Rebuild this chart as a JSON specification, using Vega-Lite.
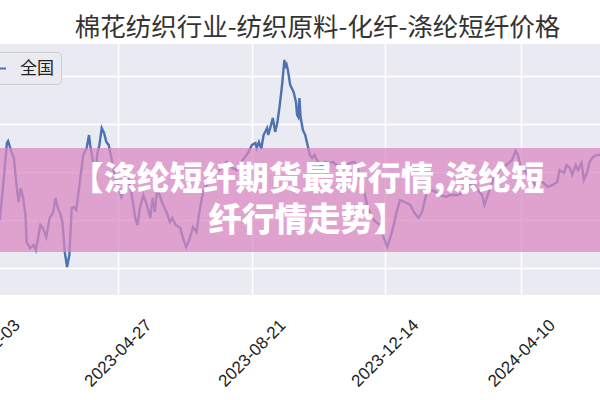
{
  "$schema": "https://vega.github.io/schema/vega-lite/v6.json",
  "autosize": {"type": "none"},
  "width": 637,
  "height": 251,
  "padding": {"left": -37, "top": 44, "right": 0, "bottom": 105},
  "background": "white",
  "title": {
    "text": "棉花纺织行业-纺织原料-化纤-涤纶短纤价格",
    "font": "Noto Sans CJK SC",
    "fontSize": 25.5,
    "fontWeight": "normal",
    "color": "#333333",
    "anchor": "middle",
    "frame": "group",
    "dx": 36,
    "offset": 3
  },
  "datasets": {
    "price": [
      {"d": "2023-01-03", "v": 7280}, {"d": "2023-01-09", "v": 7233}, {"d": "2023-01-15", "v": 7208},
      {"d": "2023-01-18", "v": 7358}, {"d": "2023-01-21", "v": 7521}, {"d": "2023-01-22", "v": 7529},
      {"d": "2023-01-25", "v": 7483}, {"d": "2023-01-27", "v": 7458}, {"d": "2023-01-29", "v": 7358},
      {"d": "2023-01-31", "v": 7275}, {"d": "2023-02-02", "v": 7333}, {"d": "2023-02-04", "v": 7292},
      {"d": "2023-02-06", "v": 7221}, {"d": "2023-02-07", "v": 7108}, {"d": "2023-02-10", "v": 7083},
      {"d": "2023-02-13", "v": 7096}, {"d": "2023-02-15", "v": 7075}, {"d": "2023-02-19", "v": 7179},
      {"d": "2023-02-21", "v": 7167}, {"d": "2023-02-24", "v": 7129}, {"d": "2023-02-27", "v": 7208},
      {"d": "2023-03-02", "v": 7233}, {"d": "2023-03-04", "v": 7292}, {"d": "2023-03-06", "v": 7250},
      {"d": "2023-03-08", "v": 7229}, {"d": "2023-03-10", "v": 7192}, {"d": "2023-03-12", "v": 7067},
      {"d": "2023-03-14", "v": 7004}, {"d": "2023-03-16", "v": 7054}, {"d": "2023-03-18", "v": 7250},
      {"d": "2023-03-20", "v": 7254}, {"d": "2023-03-22", "v": 7242}, {"d": "2023-03-25", "v": 7358},
      {"d": "2023-03-28", "v": 7471}, {"d": "2023-03-31", "v": 7500}, {"d": "2023-04-02", "v": 7554},
      {"d": "2023-04-03", "v": 7513}, {"d": "2023-04-06", "v": 7429}, {"d": "2023-04-08", "v": 7367},
      {"d": "2023-04-09", "v": 7471}, {"d": "2023-04-11", "v": 7513}, {"d": "2023-04-13", "v": 7583},
      {"d": "2023-04-15", "v": 7563}, {"d": "2023-04-17", "v": 7525}, {"d": "2023-04-19", "v": 7513},
      {"d": "2023-04-22", "v": 7442}, {"d": "2023-04-24", "v": 7388}, {"d": "2023-04-27", "v": 7346},
      {"d": "2023-04-30", "v": 7296}, {"d": "2023-05-03", "v": 7333}, {"d": "2023-05-06", "v": 7375},
      {"d": "2023-05-09", "v": 7304}, {"d": "2023-05-12", "v": 7208}, {"d": "2023-05-14", "v": 7179},
      {"d": "2023-05-16", "v": 7250}, {"d": "2023-05-19", "v": 7304}, {"d": "2023-05-22", "v": 7263},
      {"d": "2023-05-25", "v": 7208}, {"d": "2023-05-27", "v": 7292}, {"d": "2023-05-29", "v": 7233},
      {"d": "2023-05-31", "v": 7333}, {"d": "2023-06-02", "v": 7304}, {"d": "2023-06-05", "v": 7263},
      {"d": "2023-06-08", "v": 7233}, {"d": "2023-06-11", "v": 7192}, {"d": "2023-06-13", "v": 7208},
      {"d": "2023-06-16", "v": 7179}, {"d": "2023-06-20", "v": 7167}, {"d": "2023-06-22", "v": 7129},
      {"d": "2023-06-25", "v": 7088}, {"d": "2023-06-27", "v": 7108}, {"d": "2023-06-29", "v": 7138},
      {"d": "2023-07-01", "v": 7171}, {"d": "2023-07-04", "v": 7150}, {"d": "2023-07-06", "v": 7221},
      {"d": "2023-07-10", "v": 7325}, {"d": "2023-07-14", "v": 7354}, {"d": "2023-07-17", "v": 7383},
      {"d": "2023-07-21", "v": 7400}, {"d": "2023-07-24", "v": 7408}, {"d": "2023-07-30", "v": 7442},
      {"d": "2023-08-04", "v": 7417}, {"d": "2023-08-08", "v": 7408}, {"d": "2023-08-13", "v": 7450},
      {"d": "2023-08-18", "v": 7483}, {"d": "2023-08-21", "v": 7513}, {"d": "2023-08-24", "v": 7521},
      {"d": "2023-08-25", "v": 7500}, {"d": "2023-08-27", "v": 7525}, {"d": "2023-08-29", "v": 7496},
      {"d": "2023-08-31", "v": 7554}, {"d": "2023-09-03", "v": 7583}, {"d": "2023-09-04", "v": 7554},
      {"d": "2023-09-06", "v": 7588}, {"d": "2023-09-08", "v": 7625}, {"d": "2023-09-10", "v": 7567},
      {"d": "2023-09-12", "v": 7608}, {"d": "2023-09-14", "v": 7679}, {"d": "2023-09-16", "v": 7763},
      {"d": "2023-09-18", "v": 7867}, {"d": "2023-09-19", "v": 7833}, {"d": "2023-09-20", "v": 7846},
      {"d": "2023-09-21", "v": 7825}, {"d": "2023-09-23", "v": 7763}, {"d": "2023-09-26", "v": 7733},
      {"d": "2023-09-28", "v": 7692}, {"d": "2023-09-29", "v": 7638}, {"d": "2023-09-30", "v": 7629},
      {"d": "2023-10-01", "v": 7708}, {"d": "2023-10-02", "v": 7629}, {"d": "2023-10-04", "v": 7575},
      {"d": "2023-10-06", "v": 7554}, {"d": "2023-10-08", "v": 7513}, {"d": "2023-10-10", "v": 7471},
      {"d": "2023-10-12", "v": 7458}, {"d": "2023-10-14", "v": 7471}, {"d": "2023-10-16", "v": 7450},
      {"d": "2023-10-20", "v": 7425}, {"d": "2023-10-23", "v": 7442}, {"d": "2023-10-27", "v": 7438},
      {"d": "2023-10-30", "v": 7442}, {"d": "2023-11-02", "v": 7429}, {"d": "2023-11-05", "v": 7417},
      {"d": "2023-11-11", "v": 7429}, {"d": "2023-11-14", "v": 7438}, {"d": "2023-11-17", "v": 7442},
      {"d": "2023-11-20", "v": 7429}, {"d": "2023-11-22", "v": 7375}, {"d": "2023-11-26", "v": 7317},
      {"d": "2023-11-29", "v": 7254}, {"d": "2023-12-03", "v": 7208}, {"d": "2023-12-06", "v": 7192},
      {"d": "2023-12-10", "v": 7179}, {"d": "2023-12-12", "v": 7138}, {"d": "2023-12-16", "v": 7088},
      {"d": "2023-12-18", "v": 7117}, {"d": "2023-12-21", "v": 7167}, {"d": "2023-12-24", "v": 7233},
      {"d": "2023-12-27", "v": 7283}, {"d": "2023-12-31", "v": 7275}, {"d": "2024-01-05", "v": 7263},
      {"d": "2024-01-08", "v": 7233}, {"d": "2024-01-12", "v": 7208}, {"d": "2024-01-15", "v": 7233},
      {"d": "2024-01-18", "v": 7292}, {"d": "2024-01-19", "v": 7317}, {"d": "2024-01-24", "v": 7325},
      {"d": "2024-01-31", "v": 7304}, {"d": "2024-02-05", "v": 7296}, {"d": "2024-02-08", "v": 7304},
      {"d": "2024-02-15", "v": 7304}, {"d": "2024-02-21", "v": 7317}, {"d": "2024-02-27", "v": 7358},
      {"d": "2024-03-02", "v": 7333}, {"d": "2024-03-07", "v": 7304}, {"d": "2024-03-09", "v": 7263},
      {"d": "2024-03-11", "v": 7292}, {"d": "2024-03-14", "v": 7333}, {"d": "2024-03-17", "v": 7375},
      {"d": "2024-03-22", "v": 7408}, {"d": "2024-03-28", "v": 7429}, {"d": "2024-04-02", "v": 7450},
      {"d": "2024-04-05", "v": 7488}, {"d": "2024-04-07", "v": 7471}, {"d": "2024-04-09", "v": 7429},
      {"d": "2024-04-13", "v": 7408}, {"d": "2024-04-17", "v": 7375}, {"d": "2024-04-23", "v": 7342},
      {"d": "2024-04-28", "v": 7358}, {"d": "2024-05-03", "v": 7338}, {"d": "2024-05-07", "v": 7346},
      {"d": "2024-05-11", "v": 7358}, {"d": "2024-05-13", "v": 7408}, {"d": "2024-05-17", "v": 7396},
      {"d": "2024-05-19", "v": 7429}, {"d": "2024-05-22", "v": 7417}, {"d": "2024-05-24", "v": 7388},
      {"d": "2024-05-27", "v": 7429}, {"d": "2024-05-29", "v": 7408}, {"d": "2024-06-01", "v": 7438},
      {"d": "2024-06-03", "v": 7367}, {"d": "2024-06-06", "v": 7400}, {"d": "2024-06-08", "v": 7442},
      {"d": "2024-06-11", "v": 7463}, {"d": "2024-06-14", "v": 7471}, {"d": "2024-06-17", "v": 7471},
      {"d": "2024-06-20", "v": 7470}
    ],
    "band": [{"start": "2022-12-01", "end": "2024-07-01", "lo": 7067, "hi": 7500}],
    "label": [
      {"d": "2023-10-08", "v": 7367, "t": "【涤纶短纤期货最新行情,涤纶短"},
      {"d": "2023-10-08", "v": 7196, "t": "纤行情走势】"}
    ]
  },
  "layer": [
    {
      "data": {"name": "price"},
      "mark": {"type": "line", "clip": true, "strokeWidth": 2.4},
      "encoding": {
        "x": {
          "field": "d", "type": "temporal", "title": null,
          "scale": {"type": "utc", "domain": [{"year": 2022, "month": 12, "date": 14, "utc": true}, {"year": 2024, "month": 6, "date": 17, "utc": true}], "nice": false},
          "axis": {
            "values": [
              {"year": 2023, "month": 1, "date": 3, "utc": true},
              {"year": 2023, "month": 4, "date": 27, "utc": true},
              {"year": 2023, "month": 8, "date": 21, "utc": true},
              {"year": 2023, "month": 12, "date": 14, "utc": true},
              {"year": 2024, "month": 4, "date": 10, "utc": true}
            ],
            "format": "%Y-%m-%d"
          }
        },
        "y": {
          "field": "v", "type": "quantitative", "title": null,
          "scale": {"domain": [6887.5, 7933.3], "nice": false, "zero": false},
          "axis": {"values": [7000, 7200, 7400, 7600, 7800]}
        },
        "color": {
          "datum": "全国", "type": "nominal",
          "scale": {"range": ["#4c72b0"]},
          "legend": {
            "title": null, "orient": "none", "legendX": 18, "legendY": 8,
            "padding": 7, "fillColor": "#eaeaf2", "strokeColor": "#cccccc", "cornerRadius": 4,
            "labelFont": "Noto Sans CJK SC", "labelFontSize": 17, "labelColor": "#222222",
            "symbolType": "stroke", "symbolSize": 289, "symbolStrokeWidth": 2, "labelOffset": 13
          }
        }
      }
    },
    {
      "data": {"name": "band"},
      "mark": {"type": "rect", "fill": "#db87c1", "opacity": 0.72, "clip": true},
      "encoding": {
        "x": {"field": "start", "type": "temporal", "title": null, "scale": {"type": "utc", "domain": [{"year": 2022, "month": 12, "date": 14, "utc": true}, {"year": 2024, "month": 6, "date": 17, "utc": true}], "nice": false}},
        "x2": {"field": "end"},
        "y": {"field": "lo", "type": "quantitative", "title": null, "scale": {"domain": [6887.5, 7933.3], "nice": false, "zero": false}},
        "y2": {"field": "hi"}
      }
    },
    {
      "data": {"name": "label"},
      "mark": {"type": "text", "font": "Noto Sans CJK SC", "fontWeight": 900, "fontSize": 33, "fill": "white", "align": "center", "baseline": "middle"},
      "encoding": {
        "x": {"field": "d", "type": "temporal", "title": null, "scale": {"type": "utc", "domain": [{"year": 2022, "month": 12, "date": 14, "utc": true}, {"year": 2024, "month": 6, "date": 17, "utc": true}], "nice": false}},
        "y": {"field": "v", "type": "quantitative", "title": null, "scale": {"domain": [6887.5, 7933.3], "nice": false, "zero": false}},
        "text": {"field": "t"}
      }
    }
  ],
  "config": {
    "view": {"fill": "#eaeaf2", "stroke": null},
    "axis": {"domain": false, "ticks": false, "tickSize": 0, "grid": true, "gridColor": "white", "gridWidth": 1.5, "title": null},
    "axisX": {"labelAngle": -45, "labelAlign": "center", "labelBaseline": "middle", "labelPadding": 58, "labelFontSize": 17, "labelFont": "Liberation Sans", "labelColor": "#222222", "labelOverlap": false, "labelFlush": false},
    "axisY": {"labels": false}
  }
}
